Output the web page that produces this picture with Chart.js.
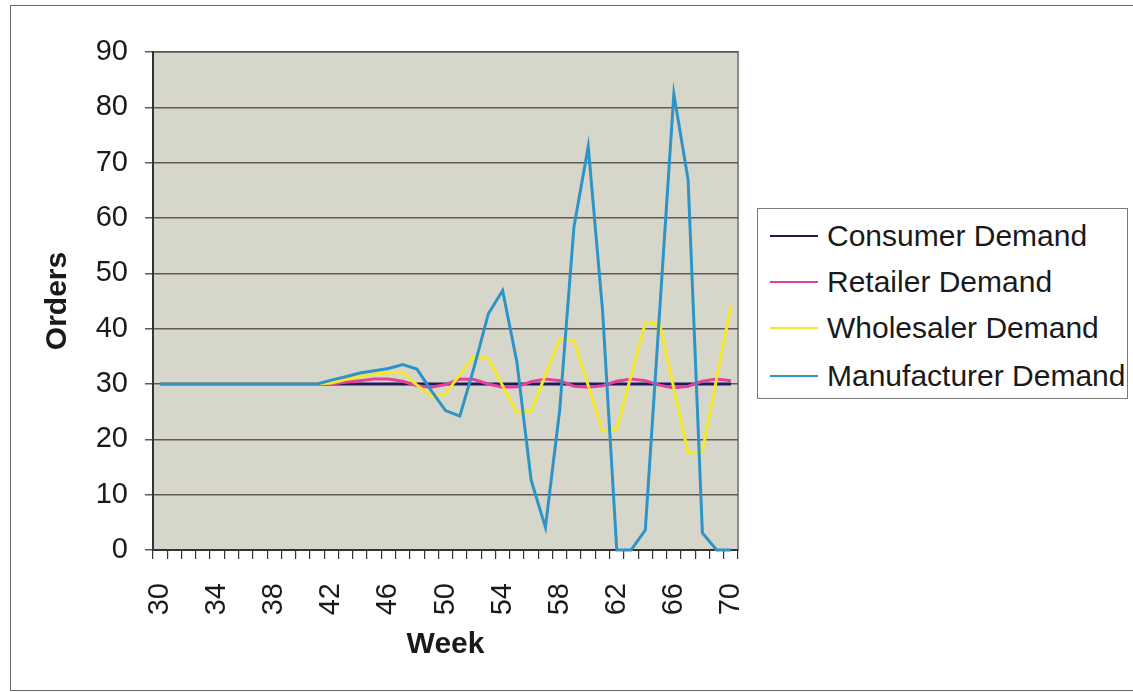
<!DOCTYPE html>
<html>
<head>
<meta charset="utf-8">
<script src="https://cdn.jsdelivr.net/npm/chart.js@4"></script>
<style>
    html, body { margin: 0; padding: 0; background: #fff; }
    body { width: 1133px; height: 692px; position: relative; overflow: hidden; font-family: "Liberation Sans", Arial, sans-serif; }
    #marco { position: absolute; left: 10px; top: 5px; width: 1140px; height: 684px; border: 1px solid #6a6a6a; }
    #grafica { position: absolute; left: 0; top: 0; }
    #leyenda { position: absolute; left: 757px; top: 208px; width: 369px; height: 189px; border: 1px solid #7a7a7a; background: #fff; }
    .item { position: absolute; left: 12px; height: 40px; display: flex; align-items: center; }
    .muestra { width: 48px; height: 2px; margin-right: 9px; }
    .texto { font-size: 30px; color: #1a1a1a; white-space: nowrap; }
</style>
</head>
<body>
<div id="marco"></div>
<canvas id="grafica" width="790" height="692"></canvas>
<div id="leyenda"></div>

<script>
const semanas = [30,31,32,33,34,35,36,37,38,39,40,41,42,43,44,45,46,47,48,49,50,
                 51,52,53,54,55,56,57,58,59,60,61,62,63,64,65,66,67,68,69,70];

const consumidor = [30,30,30,30,30,30,30,30,30,30,30,30,30,30,30,30,30,30,30,30,30,
                    30,30,30,30,30,30,30,30,30,30,30,30,30,30,30,30,30,30,30,30];

const minorista = [30,30,30,30,30,30,30,30,30,30,30,30,30,
                   30.3,30.6,30.9,30.9,30.5,29.7,29.4,29.9,30.9,30.8,30.0,29.4,29.5,
                   30.4,30.9,30.6,29.6,29.4,29.7,30.5,30.9,30.6,29.8,29.3,29.6,30.5,30.9,30.6];

const mayorista = [30,30,30,30,30,30,30,30,30,30,30,30,
                   30.2,30.8,31.3,31.8,32.0,32.1,29.8,27.8,28.2,31.7,35.0,34.6,29.7,24.8,
                   25.1,31.6,38.2,37.8,29.7,21.5,21.9,31.5,41.1,40.9,29.2,17.5,17.8,31.0,44.3];

const fabricante = [30,30,30,30,30,30,30,30,30,30,30,30,
                    30.7,31.3,32.0,32.4,32.8,33.5,32.7,28.8,25.2,24.2,33.0,42.7,46.9,34.0,
                    12.6,4.1,25.3,58.4,72.9,43.4,0,0,3.6,43.0,82.4,66.9,3.1,0,0];

const ticksY = [0,10,20,30,40,50,60,70,80,90];

const series = [
    { label: "Consumer Demand", data: consumidor, color: "#1c1a5c", order: 4 },
    { label: "Retailer Demand", data: minorista, color: "#e5409c", order: 3 },
    { label: "Wholesaler Demand", data: mayorista, color: "#f5e82c", order: 2 },
    { label: "Manufacturer Demand", data: fabricante, color: "#2e93c6", order: 1 }
];

const fondoPlot = {
    id: "fondoPlot",
    beforeDraw(chart) {
        const { ctx, chartArea: a } = chart;
        ctx.save();
        ctx.fillStyle = "#d6d7ca";
        ctx.fillRect(a.left, a.top, a.right - a.left, a.bottom - a.top);
        ctx.strokeStyle = "#8c8a86";
        ctx.lineWidth = 2;
        ctx.strokeRect(a.left, a.top, a.right - a.left, a.bottom - a.top);
        ctx.restore();
    }
};

const fuente = "'Liberation Sans', Arial, sans-serif";

new Chart(document.getElementById("grafica").getContext("2d"), {
    type: "line",
    data: {
        labels: semanas,
        datasets: series.map(s => ({
            label: s.label,
            data: s.data,
            borderColor: s.color,
            backgroundColor: s.color,
            borderWidth: 3,
            pointRadius: 0,
            tension: 0,
            fill: false,
            clip: 4,
            order: s.order
        }))
    },
    options: {
        responsive: false,
        animation: false,
        devicePixelRatio: 1,
        layout: { padding: { left: 0, top: 52, right: 22, bottom: 0 } },
        plugins: {
            legend: { display: false },
            tooltip: { enabled: false }
        },
        scales: {
            x: {
                offset: true,
                grid: { offset: true, drawOnChartArea: false, drawTicks: true, tickLength: 9, color: "#333", lineWidth: 1.2 },
                border: { display: true, color: "#333", width: 2 },
                ticks: {
                    autoSkip: false,
                    minRotation: 90,
                    maxRotation: 90,
                    padding: 24,
                    color: "#1a1a1a",
                    font: { family: fuente, size: 29 },
                    callback: function (val, i) {
                        return (semanas[i] - 30) % 4 === 0 ? String(semanas[i]) : "";
                    }
                },
                title: {
                    display: true,
                    text: "Week",
                    color: "#1a1a1a",
                    font: { family: fuente, size: 30, weight: "bold" },
                    padding: { top: 0, bottom: 29 }
                },
                afterFit(scale) { scale.height = 142; }
            },
            y: {
                min: 0,
                max: 90,
                afterBuildTicks(scale) { scale.ticks = ticksY.map(v => ({ value: v })); },
                grid: { color: "#5e5a56", lineWidth: 1.5, tickLength: 8 },
                border: { display: true, color: "#333", width: 2 },
                ticks: {
                    padding: 17,
                    color: "#1a1a1a",
                    font: { family: fuente, size: 29 }
                },
                title: {
                    display: true,
                    text: "Orders",
                    color: "#1a1a1a",
                    font: { family: fuente, size: 30, weight: "bold" },
                    padding: { top: 40, bottom: 0 }
                },
                afterFit(scale) { scale.width = 153; }
            }
        }
    },
    plugins: [fondoPlot]
});

const leyenda = document.getElementById("leyenda");
const filasY = [7, 53, 99, 147];
series.forEach((s, i) => {
    const item = document.createElement("div");
    item.className = "item";
    item.style.top = filasY[i] + "px";
    item.innerHTML = `<span class="muestra" style="background:${s.color}"></span><span class="texto">${s.label}</span>`;
    leyenda.appendChild(item);
});
</script>
</body>
</html>
